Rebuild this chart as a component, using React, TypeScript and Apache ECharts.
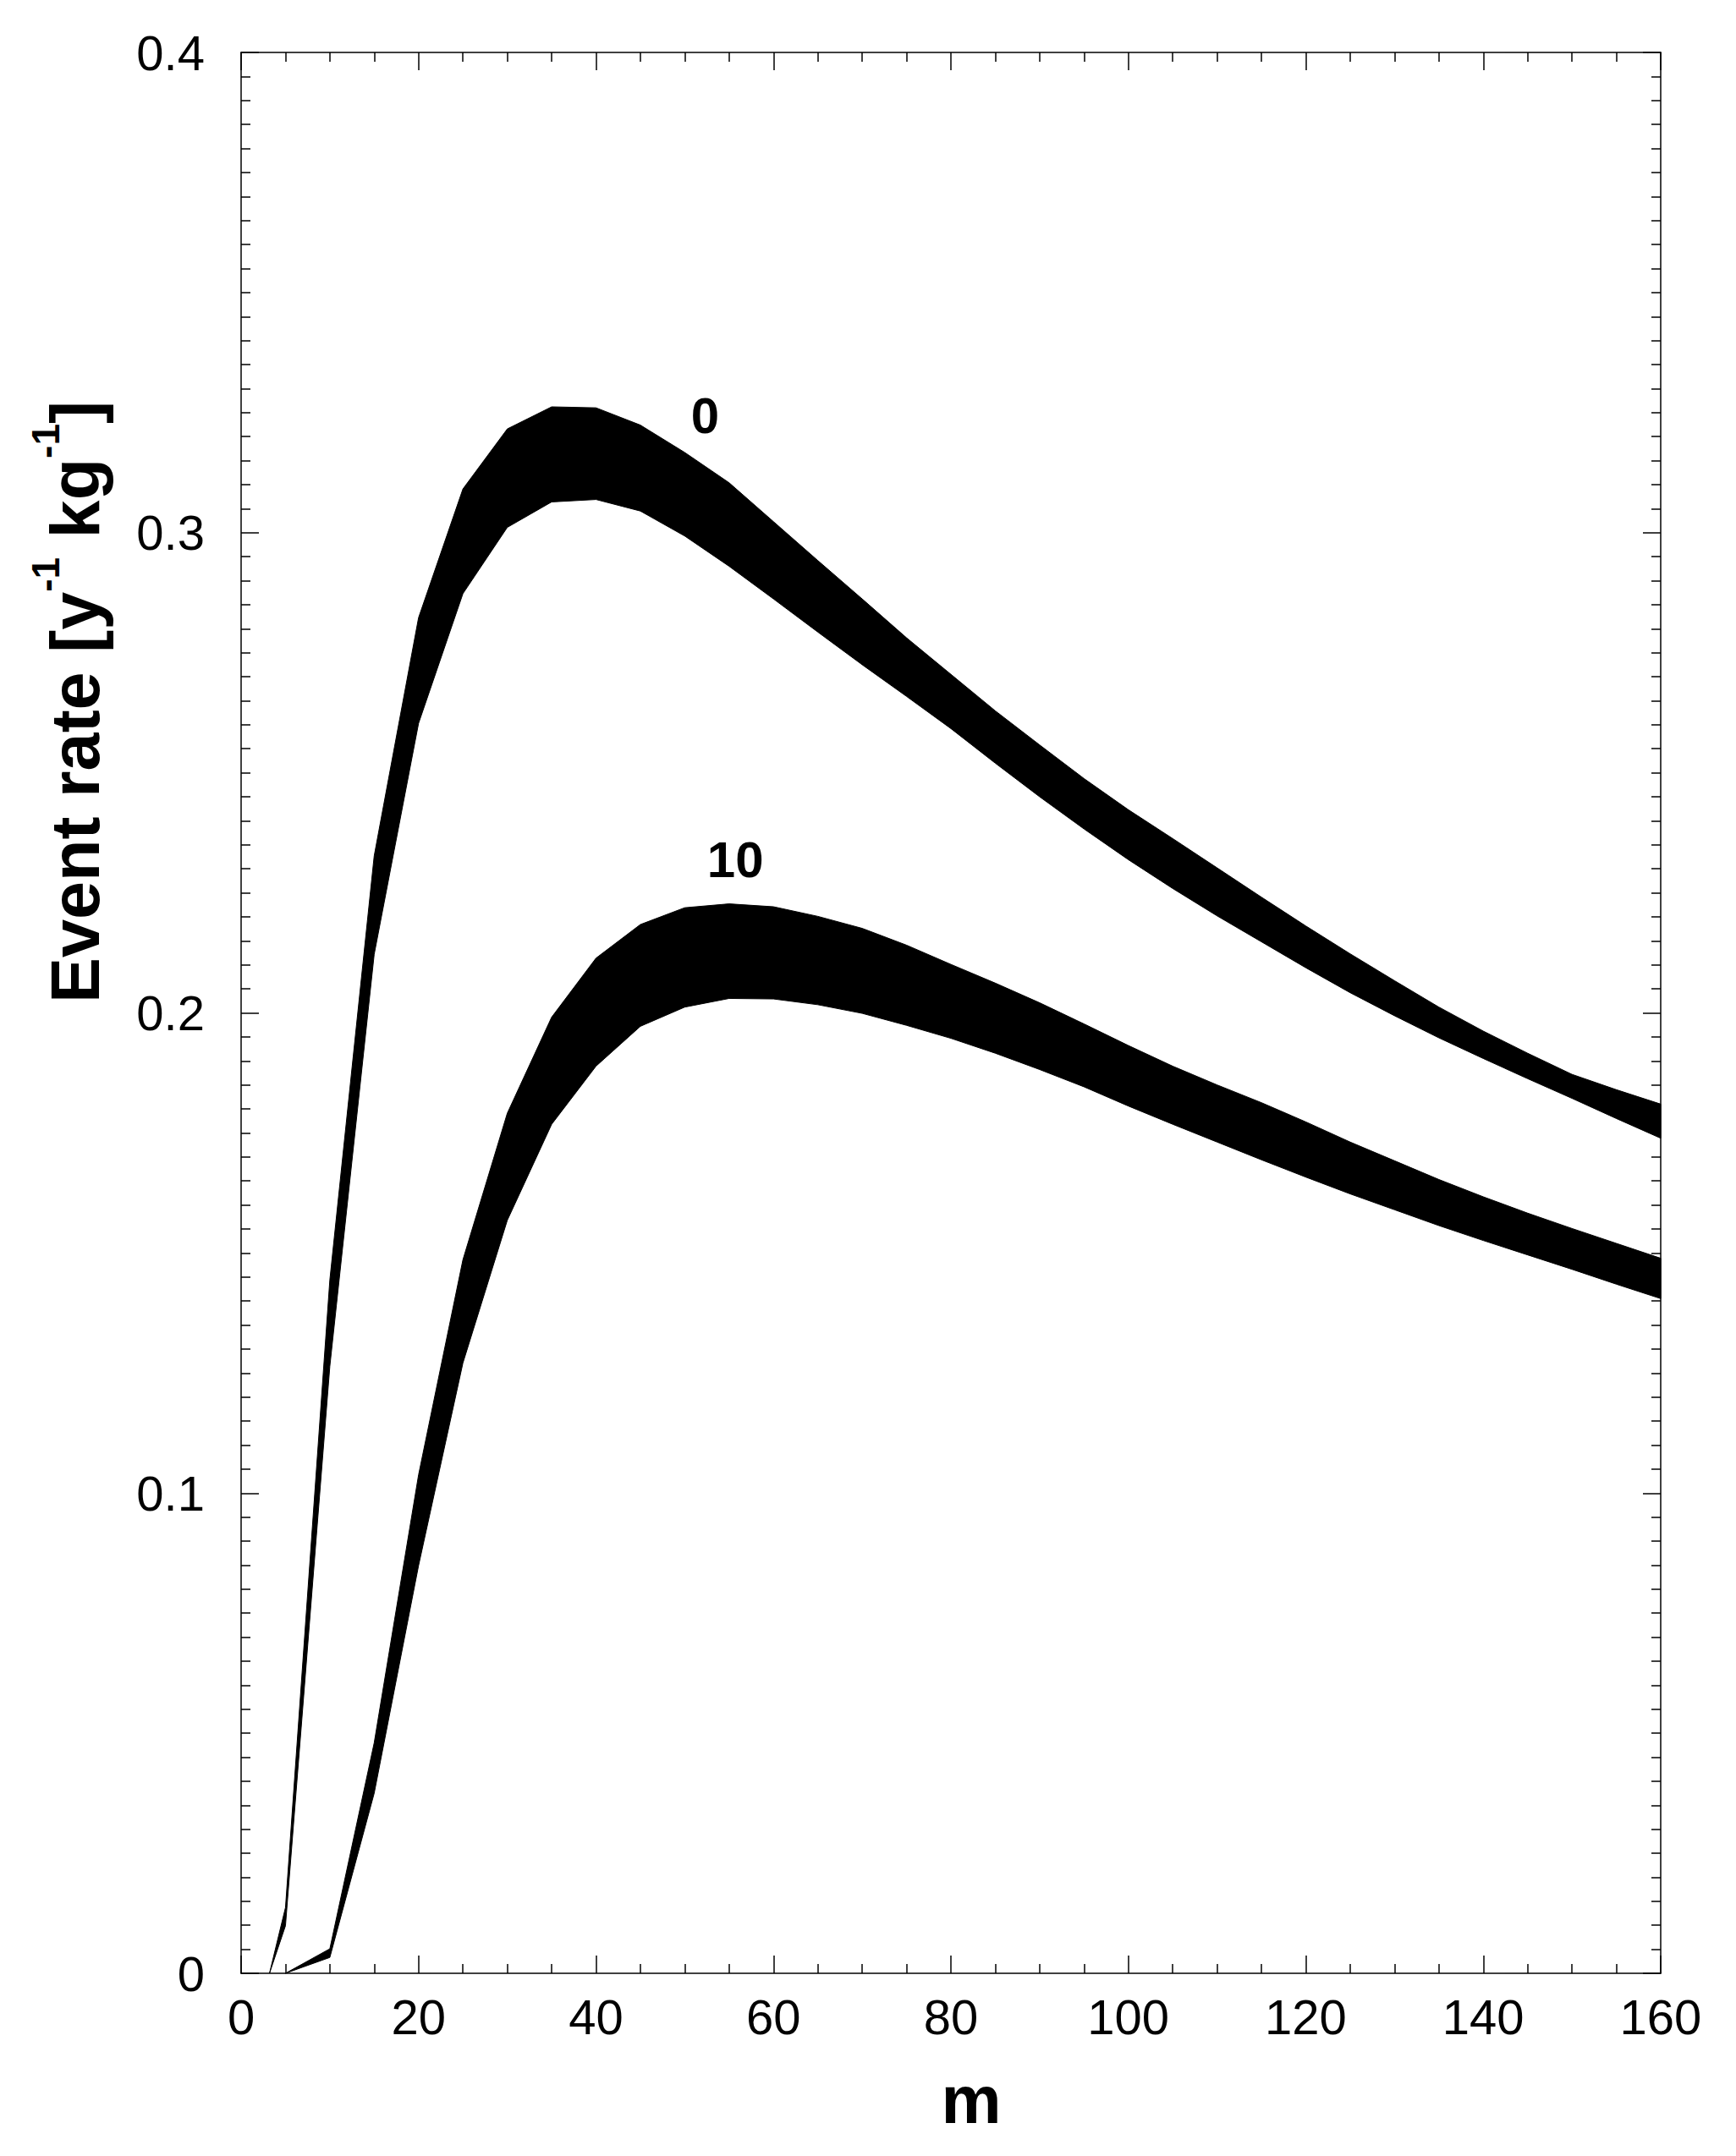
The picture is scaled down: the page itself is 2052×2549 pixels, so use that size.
import React, { useEffect, useRef } from 'react';
import * as echarts from 'echarts';

// m values and event-rate bands
const mass0 = [3.2, 5, 10, 15, 20, 25, 30, 35, 40, 45, 50, 55, 60, 65, 70, 75, 80, 85, 90, 95, 100, 105, 110, 115, 120, 125, 130, 135, 140, 145, 150, 155, 160];
const upper0 = [0, 0.0137, 0.1444, 0.2327, 0.2823, 0.3091, 0.3216, 0.3262, 0.3260, 0.3224, 0.3167, 0.3104, 0.3023, 0.2942, 0.2862, 0.2781, 0.2705, 0.2629, 0.2558, 0.2488, 0.2423, 0.2363, 0.2302, 0.2241, 0.2181, 0.2123, 0.2067, 0.2012, 0.1962, 0.1916, 0.1872, 0.1840, 0.1810];
const lower0 = [0, 0.0099, 0.1264, 0.2122, 0.2603, 0.2873, 0.3011, 0.3064, 0.3069, 0.3045, 0.2993, 0.2930, 0.2862, 0.2793, 0.2725, 0.2659, 0.2592, 0.2520, 0.2450, 0.2383, 0.2319, 0.2259, 0.2202, 0.2148, 0.2094, 0.2042, 0.1994, 0.1948, 0.1905, 0.1863, 0.1822, 0.1780, 0.1739];

const mass10 = [5, 10, 15, 20, 25, 30, 35, 40, 45, 50, 55, 60, 65, 70, 75, 80, 85, 90, 95, 100, 105, 110, 115, 120, 125, 130, 135, 140, 145, 150, 155, 160];
const upper10 = [0, 0.0051, 0.0480, 0.1038, 0.1486, 0.1791, 0.1991, 0.2114, 0.2184, 0.2219, 0.2227, 0.2221, 0.2201, 0.2176, 0.2141, 0.2101, 0.2062, 0.2021, 0.1977, 0.1932, 0.1889, 0.1850, 0.1813, 0.1773, 0.1731, 0.1692, 0.1653, 0.1617, 0.1583, 0.1551, 0.1520, 0.1489];
const lower10 = [0, 0.0033, 0.0375, 0.0849, 0.1271, 0.1568, 0.1768, 0.1889, 0.1972, 0.2012, 0.2030, 0.2029, 0.2017, 0.1999, 0.1974, 0.1947, 0.1916, 0.1882, 0.1846, 0.1806, 0.1768, 0.1731, 0.1694, 0.1658, 0.1623, 0.1590, 0.1557, 0.1526, 0.1496, 0.1466, 0.1435, 0.1405];

const curveLabels = ['0', '10'];
const curveLabelX = [52.3, 55.7];
const curveLabelY = [0.3244, 0.2318];

const xMin = 0, xMax = 160, xStep = 20;
const yMin = 0, yMax = 0.4, yStep = 0.1;

const FONT = "'Liberation Sans', Arial, Helvetica, sans-serif";

const bands = [
  { name: '0', xs: mass0, lo: lower0, hi: upper0 },
  { name: '10', xs: mass10, lo: lower10, hi: upper10 },
];

function axisCommon() {
  return {
    axisLine: { show: true, onZero: false, lineStyle: { color: '#000', width: 1.5 } },
    axisTick: { show: true, inside: true, length: 21, lineStyle: { color: '#000', width: 1.5 } },
    minorTick: { show: true, length: 11, lineStyle: { color: '#000', width: 1.5 } } as any,
    splitLine: { show: false },
    minorSplitLine: { show: false },
  };
}

export default function App() {
  const ref = useRef<HTMLDivElement>(null);
  useEffect(() => {
    document.body.style.margin = '0';
    const chart = echarts.init(ref.current!, undefined, { renderer: 'svg' });
    const xBase = (pos: string, show: boolean) => {
      const c: any = axisCommon();
      c.minorTick.splitNumber = 4;
      return {
        type: 'value', position: pos, min: xMin, max: xMax, interval: xStep, ...c,
        axisLabel: show
          ? { show: true, fontFamily: FONT, fontSize: 58, color: '#000', margin: 22 }
          : { show: false },
      };
    };
    const yBase = (pos: string, show: boolean) => {
      const c: any = axisCommon();
      c.minorTick.splitNumber = 20;
      return {
        type: 'value', position: pos, min: yMin, max: yMax, interval: yStep, ...c,
        axisLabel: show
          ? {
              show: true, fontFamily: FONT, fontSize: 58, color: '#000', margin: 43,
              formatter: (v: number) => (v === 0 ? '0' : v.toFixed(1)),
            }
          : { show: false },
      };
    };
    const option: any = {
      animation: false,
      backgroundColor: '#fff',
      grid: { left: 285, top: 62, width: 1678, height: 2271, containLabel: false },
      xAxis: [
        {
          ...xBase('bottom', true),
          name: 'm', nameLocation: 'middle', nameGap: 109,
          nameTextStyle: { fontFamily: FONT, fontSize: 80, fontWeight: 'bold', color: '#000', padding: [0, 0, 0, 48] },
        },
        xBase('top', false),
      ],
      yAxis: [yBase('left', true), yBase('right', false)],
      graphic: [
        {
          type: 'text', x: 89, y: 830, rotation: Math.PI / 2,
          style: {
            text: '{m|Event rate [y}{s|-1}{m| kg}{s|-1}{m|]}',
            align: 'center', verticalAlign: 'middle', fill: '#000',
            rich: {
              m: { fontFamily: FONT, fontSize: 81, fontWeight: 'bold', lineHeight: 116, fill: '#000' },
              s: { fontFamily: FONT, fontSize: 46, fontWeight: 'bold', verticalAlign: 'top', fill: '#000' },
            },
          },
        },
      ],
      series: [
        {
          type: 'custom',
          name: 'bands',
          coordinateSystem: 'cartesian2d',
          xAxisIndex: 0, yAxisIndex: 0,
          data: bands.map((b, i) => [i]),
          encode: { x: -1, y: -1 },
          renderItem: (params: any, api: any) => {
            const b = bands[params.dataIndex];
            const pts: number[][] = [];
            for (let i = 0; i < b.xs.length; i++) pts.push(api.coord([b.xs[i], b.hi[i]]));
            for (let i = b.xs.length - 1; i >= 0; i--) pts.push(api.coord([b.xs[i], b.lo[i]]));
            return {
              type: 'polygon',
              shape: { points: pts },
              style: { fill: '#000', stroke: '#000', lineWidth: 1 },
            };
          },
          z: 3,
        },
        {
          type: 'scatter', xAxisIndex: 0, yAxisIndex: 0, symbolSize: 0,
          itemStyle: { color: '#000', opacity: 1 },
          data: curveLabels.map((t, i) => ({ value: [curveLabelX[i], curveLabelY[i]], name: t })),
          label: {
            show: true, position: 'inside', formatter: (p: any) => p.name,
            fontFamily: FONT, fontSize: 60, fontWeight: 'bold', color: '#000', opacity: 1,
            textBorderWidth: 0,
          },
          z: 5,
        },
      ],
    };
    chart.setOption(option);
    return () => chart.dispose();
  }, []);
  return <div ref={ref} style={{ width: 2052, height: 2549 }} />;
}
